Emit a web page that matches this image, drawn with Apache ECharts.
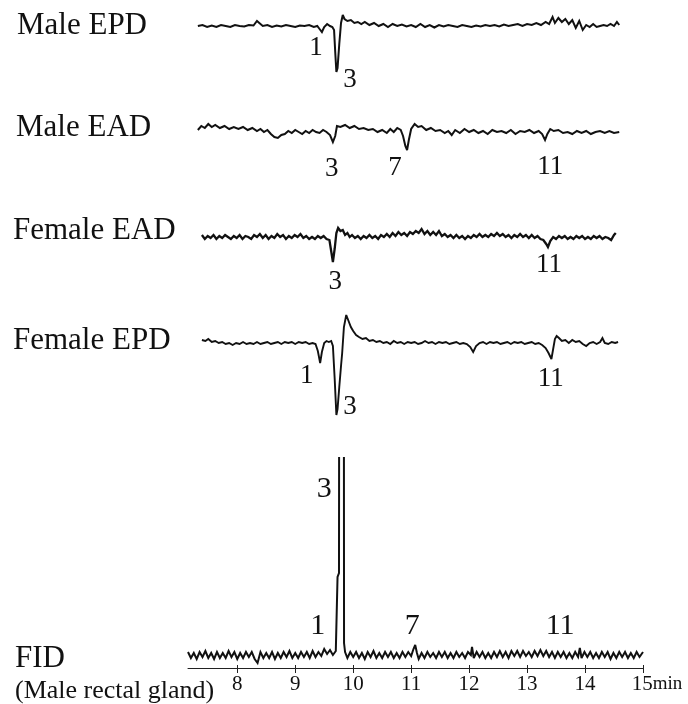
<!DOCTYPE html>
<html>
<head>
<meta charset="utf-8">
<script src="https://cdn.jsdelivr.net/npm/echarts@6/dist/echarts.min.js"></script>
<style>html,body{margin:0;padding:0;background:#fff}#c{width:688px;height:704px}</style>
</head>
<body>
<div id="c"></div>
<script>
// ---- DATA: retention time (min) / relative response ----
const traceNames = ['Male EPD', 'Male EAD', 'Female EAD', 'Female EPD', 'FID'];
const fidSubtitle = '(Male rectal gland)';
const tickValues = [8, 9, 10, 11, 12, 13, 14, 15];
const timeUnit = 'min';

const maleEpd = [[7.32,0.0],[7.40,0.1],[7.48,-0.1],[7.56,0.05],[7.64,-0.1],[7.72,0.1],[7.80,0.0],[7.88,-0.1],[7.96,0.1],[8.04,0.0],[8.12,-0.05],[8.20,0.1],[8.28,0.05],[8.34,0.5],[8.38,0.3],[8.44,0.0],[8.52,0.1],[8.60,-0.1],[8.68,0.05],[8.76,-0.05],[8.84,0.1],[8.92,0.0],[9.00,-0.1],[9.08,0.05],[9.16,0.0],[9.24,0.1],[9.32,-0.1],[9.38,0.0],[9.42,-0.3],[9.46,-0.6],[9.50,-0.1],[9.55,0.2],[9.60,0.0],[9.64,-0.1],[9.67,-0.4],[9.69,-2.6],[9.71,-4.6],[9.73,-4.2],[9.76,-1.8],[9.79,0.3],[9.82,1.1],[9.85,0.7],[9.90,0.5],[9.96,0.6],[10.02,0.3],[10.08,0.4],[10.14,0.2],[10.20,0.4],[10.28,0.1],[10.36,0.3],[10.44,0.0],[10.52,0.2],[10.60,-0.1],[10.68,0.2],[10.76,0.0],[10.84,0.15],[10.92,-0.05],[11.00,0.1],[11.08,-0.1],[11.16,0.2],[11.24,-0.1],[11.32,0.1],[11.40,-0.15],[11.48,0.1],[11.56,-0.05],[11.64,0.1],[11.72,0.0],[11.80,-0.1],[11.88,0.1],[11.96,0.0],[12.04,-0.1],[12.12,0.05],[12.20,-0.05],[12.28,0.1],[12.36,0.0],[12.44,0.1],[12.52,-0.05],[12.60,0.15],[12.68,0.0],[12.76,0.1],[12.84,0.2],[12.92,0.0],[13.00,0.2],[13.08,0.1],[13.16,0.3],[13.24,0.1],[13.32,0.4],[13.38,0.2],[13.44,0.9],[13.48,0.3],[13.54,0.8],[13.60,0.4],[13.66,0.7],[13.72,0.2],[13.78,0.6],[13.84,-0.2],[13.90,0.5],[13.96,-0.4],[14.02,0.1],[14.08,-0.1],[14.14,0.2],[14.20,-0.1],[14.26,0.0],[14.32,0.1],[14.38,0.0],[14.44,0.2],[14.50,0.0],[14.55,0.4],[14.59,0.1]];

const maleEad = [[7.32,0.2],[7.38,0.6],[7.44,0.4],[7.50,0.8],[7.56,0.5],[7.62,0.7],[7.70,0.4],[7.78,0.6],[7.86,0.3],[7.94,0.5],[8.02,0.3],[8.10,0.5],[8.18,0.2],[8.26,0.4],[8.34,0.1],[8.40,0.3],[8.46,0.0],[8.52,0.2],[8.58,-0.2],[8.64,-0.5],[8.70,-0.6],[8.76,-0.3],[8.82,-0.2],[8.88,0.1],[8.94,-0.1],[9.00,0.2],[9.06,0.0],[9.12,-0.2],[9.18,0.1],[9.24,-0.1],[9.30,0.2],[9.36,0.0],[9.42,-0.1],[9.48,0.2],[9.54,0.0],[9.60,-0.3],[9.65,-1.0],[9.69,-0.4],[9.72,0.6],[9.78,0.5],[9.86,0.7],[9.94,0.4],[10.02,0.6],[10.10,0.3],[10.18,0.4],[10.26,0.2],[10.34,0.3],[10.42,0.0],[10.50,0.2],[10.58,-0.1],[10.64,0.3],[10.70,0.0],[10.76,0.4],[10.82,0.2],[10.86,-0.4],[10.90,-1.4],[10.93,-1.8],[10.96,-0.8],[11.00,0.3],[11.06,0.8],[11.12,0.5],[11.18,0.6],[11.26,0.2],[11.34,0.4],[11.42,0.1],[11.50,0.2],[11.58,-0.1],[11.64,0.1],[11.70,-0.3],[11.76,0.2],[11.84,-0.1],[11.92,0.3],[12.00,0.0],[12.08,0.2],[12.16,-0.1],[12.24,0.1],[12.32,-0.2],[12.40,0.2],[12.48,0.0],[12.56,0.1],[12.64,-0.1],[12.72,0.2],[12.80,-0.2],[12.88,0.1],[12.96,0.0],[13.04,0.2],[13.12,-0.1],[13.20,0.1],[13.26,-0.2],[13.31,-0.8],[13.35,-0.2],[13.40,0.3],[13.46,0.1],[13.54,0.2],[13.62,-0.1],[13.70,0.0],[13.78,-0.2],[13.86,0.1],[13.94,-0.1],[14.02,0.1],[14.10,-0.2],[14.18,0.0],[14.26,0.1],[14.34,-0.1],[14.42,0.1],[14.50,-0.1],[14.59,0.0]];

const femaleEad = [[7.39,0.2],[7.44,-0.2],[7.49,0.1],[7.54,-0.1],[7.59,0.2],[7.64,-0.2],[7.69,0.1],[7.74,-0.1],[7.79,0.2],[7.84,0.0],[7.89,-0.2],[7.94,0.1],[7.99,-0.1],[8.04,0.2],[8.09,-0.2],[8.14,0.1],[8.19,0.0],[8.24,-0.2],[8.29,0.2],[8.34,0.0],[8.39,0.3],[8.44,-0.1],[8.49,0.2],[8.54,-0.2],[8.59,0.1],[8.64,-0.1],[8.69,0.3],[8.74,0.0],[8.79,0.2],[8.84,-0.2],[8.89,0.1],[8.94,-0.1],[8.99,0.2],[9.04,0.0],[9.09,0.3],[9.14,-0.1],[9.19,0.1],[9.24,-0.2],[9.29,0.0],[9.34,-0.2],[9.39,0.1],[9.44,-0.1],[9.49,0.1],[9.54,-0.2],[9.59,-0.3],[9.62,-1.4],[9.65,-2.5],[9.68,-1.2],[9.71,0.4],[9.74,0.9],[9.78,0.6],[9.82,0.7],[9.86,0.2],[9.90,0.4],[9.94,0.0],[9.98,0.2],[10.03,-0.1],[10.08,0.1],[10.13,-0.2],[10.18,0.1],[10.23,-0.1],[10.28,0.2],[10.33,-0.1],[10.38,0.1],[10.43,-0.2],[10.48,0.2],[10.53,0.0],[10.58,0.3],[10.63,0.0],[10.68,0.4],[10.73,0.1],[10.78,0.5],[10.83,0.2],[10.88,0.4],[10.93,0.1],[10.98,0.5],[11.03,0.3],[11.08,0.6],[11.13,0.4],[11.18,0.8],[11.23,0.3],[11.28,0.6],[11.33,0.2],[11.38,0.5],[11.43,0.2],[11.48,0.6],[11.53,0.1],[11.58,0.3],[11.63,0.0],[11.68,0.2],[11.73,-0.1],[11.78,0.2],[11.83,-0.1],[11.88,0.1],[11.93,-0.2],[11.98,0.1],[12.03,-0.1],[12.08,0.2],[12.13,0.0],[12.18,0.3],[12.23,0.0],[12.28,0.2],[12.33,0.0],[12.38,0.3],[12.43,0.1],[12.48,0.4],[12.53,0.1],[12.58,0.3],[12.63,0.0],[12.68,0.2],[12.73,-0.1],[12.78,0.2],[12.83,0.0],[12.88,0.3],[12.93,0.0],[12.98,0.2],[13.03,-0.1],[13.08,0.2],[13.13,-0.1],[13.18,0.1],[13.23,-0.2],[13.28,-0.3],[13.33,-0.7],[13.36,-1.0],[13.40,-0.4],[13.45,0.0],[13.50,-0.2],[13.55,0.1],[13.60,-0.1],[13.65,0.1],[13.70,-0.2],[13.75,0.0],[13.80,-0.2],[13.85,0.1],[13.90,-0.1],[13.95,0.1],[14.00,-0.2],[14.05,0.0],[14.10,-0.2],[14.15,0.1],[14.20,-0.1],[14.25,0.1],[14.30,-0.2],[14.35,0.0],[14.40,-0.1],[14.45,-0.3],[14.50,0.2],[14.53,0.4]];

const femaleEpd = [[7.39,0.3],[7.45,0.2],[7.50,0.4],[7.56,0.1],[7.62,0.2],[7.68,0.0],[7.74,0.1],[7.80,-0.1],[7.86,0.0],[7.92,-0.2],[7.98,0.0],[8.04,-0.1],[8.10,0.1],[8.16,-0.1],[8.22,0.0],[8.28,-0.1],[8.34,0.1],[8.40,-0.1],[8.46,0.0],[8.52,0.1],[8.58,-0.1],[8.64,0.0],[8.70,0.1],[8.76,-0.1],[8.82,0.1],[8.88,0.0],[8.94,0.1],[9.00,-0.1],[9.06,0.1],[9.12,0.0],[9.18,0.1],[9.24,-0.1],[9.30,0.0],[9.35,-0.1],[9.39,-0.8],[9.43,-2.0],[9.46,-0.9],[9.50,0.0],[9.54,0.2],[9.58,0.1],[9.62,0.2],[9.65,-0.3],[9.68,-3.5],[9.71,-7.2],[9.73,-6.6],[9.76,-4.4],[9.79,-2.3],[9.81,-1.0],[9.84,1.6],[9.88,2.8],[9.92,2.2],[9.96,1.6],[10.00,1.2],[10.05,0.8],[10.10,0.6],[10.16,0.4],[10.22,0.5],[10.28,0.2],[10.34,0.3],[10.40,0.1],[10.46,0.2],[10.52,0.0],[10.58,0.1],[10.64,-0.1],[10.70,0.2],[10.76,0.0],[10.82,0.1],[10.88,-0.1],[10.94,0.1],[11.00,0.0],[11.06,0.1],[11.12,-0.1],[11.18,0.0],[11.24,0.2],[11.30,0.0],[11.36,0.1],[11.42,-0.1],[11.48,0.1],[11.54,0.0],[11.60,0.1],[11.66,-0.1],[11.72,0.0],[11.78,0.1],[11.84,-0.1],[11.90,0.0],[11.96,-0.1],[12.02,-0.4],[12.07,-0.9],[12.12,-0.3],[12.18,0.0],[12.24,0.1],[12.30,-0.1],[12.36,0.1],[12.42,0.0],[12.48,0.1],[12.54,-0.1],[12.60,0.0],[12.66,0.1],[12.72,-0.1],[12.78,0.1],[12.84,0.0],[12.90,0.1],[12.96,-0.1],[13.02,0.0],[13.08,0.1],[13.14,-0.1],[13.20,0.0],[13.26,-0.2],[13.32,-0.5],[13.37,-1.0],[13.42,-1.6],[13.45,-0.6],[13.48,0.4],[13.51,0.7],[13.55,0.5],[13.60,0.2],[13.66,0.3],[13.72,0.0],[13.78,0.3],[13.84,0.1],[13.90,0.2],[13.96,-0.1],[14.02,-0.3],[14.08,0.0],[14.14,0.1],[14.20,-0.1],[14.26,0.1],[14.30,0.5],[14.34,0.0],[14.40,-0.1],[14.46,0.1],[14.52,0.0],[14.57,0.1]];

const fid = [[7.15,0.3],[7.20,-0.3],[7.25,0.2],[7.30,-0.4],[7.35,0.3],[7.40,-0.2],[7.45,0.4],[7.50,-0.3],[7.55,0.2],[7.60,-0.4],[7.65,0.3],[7.70,-0.3],[7.75,0.2],[7.80,-0.3],[7.85,0.4],[7.90,-0.2],[7.95,0.3],[8.00,-0.4],[8.05,0.2],[8.10,-0.3],[8.15,0.3],[8.20,-0.2],[8.25,0.3],[8.30,-0.4],[8.35,-0.8],[8.40,0.3],[8.45,-0.3],[8.50,0.2],[8.55,-0.3],[8.60,0.3],[8.65,-0.4],[8.70,0.2],[8.75,-0.3],[8.80,0.3],[8.85,-0.2],[8.90,0.4],[8.95,-0.3],[9.00,0.2],[9.05,-0.3],[9.10,0.3],[9.15,-0.2],[9.20,0.3],[9.25,-0.3],[9.30,0.4],[9.35,-0.2],[9.40,0.3],[9.45,-0.1],[9.50,0.6],[9.55,0.1],[9.60,0.5],[9.65,0.0],[9.70,0.4],[9.72,0.3],[9.73,7.8],[9.755,8.2],[9.76,40],[9.80,200],[9.838,40],[9.842,1.2],[9.86,0.3],[9.90,-0.3],[9.95,0.3],[10.00,-0.2],[10.05,0.3],[10.10,-0.3],[10.15,0.2],[10.20,-0.4],[10.25,0.3],[10.30,-0.2],[10.35,0.4],[10.40,-0.3],[10.45,0.2],[10.50,-0.3],[10.55,0.3],[10.60,-0.2],[10.65,0.3],[10.70,-0.3],[10.75,0.2],[10.80,-0.3],[10.85,0.3],[10.90,-0.2],[10.95,0.3],[11.00,-0.1],[11.04,0.6],[11.07,1.0],[11.10,0.2],[11.13,-0.4],[11.18,0.2],[11.23,-0.3],[11.28,0.3],[11.33,-0.2],[11.38,0.2],[11.43,-0.3],[11.48,0.3],[11.53,-0.2],[11.58,0.3],[11.63,-0.3],[11.68,0.2],[11.73,-0.3],[11.78,0.3],[11.83,-0.2],[11.88,0.2],[11.93,-0.3],[11.98,0.3],[12.03,0.0],[12.05,0.8],[12.08,-0.3],[12.13,0.3],[12.18,-0.2],[12.23,0.3],[12.28,-0.3],[12.33,0.2],[12.38,-0.3],[12.43,0.3],[12.48,-0.2],[12.53,0.4],[12.58,-0.2],[12.63,0.3],[12.68,-0.3],[12.73,0.4],[12.78,-0.1],[12.83,0.4],[12.88,-0.2],[12.93,0.4],[12.98,-0.1],[13.03,0.3],[13.08,-0.2],[13.13,0.4],[13.18,-0.1],[13.23,0.5],[13.28,-0.1],[13.33,0.4],[13.38,-0.2],[13.43,0.3],[13.48,-0.3],[13.53,0.3],[13.58,-0.2],[13.63,0.3],[13.68,-0.3],[13.73,0.2],[13.78,-0.3],[13.83,0.3],[13.88,-0.2],[13.91,0.7],[13.94,-0.3],[13.99,0.3],[14.04,-0.2],[14.09,0.3],[14.14,-0.3],[14.19,0.2],[14.24,-0.3],[14.29,0.3],[14.34,-0.2],[14.39,0.3],[14.44,-0.4],[14.49,0.2],[14.54,-0.3],[14.59,0.3],[14.64,-0.2],[14.69,0.3],[14.74,-0.3],[14.79,0.2],[14.84,-0.3],[14.89,0.3],[14.94,-0.2],[15.00,0.3]];

// peak-number labels: [label, time, response]
const maleEpdPeaks = [['1', 9.36, -2.2], ['3', 9.945, -5.4]];
const maleEadPeaks = [['3', 9.63, -3.7], ['7', 10.72, -3.6], ['11', 13.40, -3.5]];
const femaleEadPeaks = [['3', 9.69, -4.5], ['11', 13.38, -2.8]];
const femaleEpdPeaks = [['1', 9.20, -3.3], ['3', 9.945, -6.4], ['11', 13.41, -3.6]];
const fidPeaks = [['3', 9.50, 16.6], ['1', 9.39, 2.9], ['7', 11.02, 2.9], ['11', 13.57, 2.9]];

// ---- CHART ----
const FONT = '"Liberation Serif", "Times New Roman", serif';
const traces = [maleEpd, maleEad, femaleEad, femaleEpd, fid];
const peaks = [maleEpdPeaks, maleEadPeaks, femaleEadPeaks, femaleEpdPeaks, fidPeaks];
const panels = [
  {top: 1, height: 95, min: -7, max: 2.5, fs: 27, lw: 2.0},
  {top: 112, height: 65, min: -4.5, max: 2, fs: 27, lw: 2.0},
  {top: 217, height: 75, min: -5.5, max: 2, fs: 27, lw: 2.3},
  {top: 308, height: 120, min: -8.5, max: 3.5, fs: 27, lw: 1.9},
  {top: 458, height: 210, min: -1.3, max: 19.7, fs: 30, lw: 2.0}
];
const X_MIN = 7.15, X_MAX = 15;

const grid = panels.map(p => ({left: 188, right: 45, top: p.top, height: p.height}));
const xAxis = panels.map((p, i) => {
  const last = i === panels.length - 1;
  return {
    type: 'value', gridIndex: i, min: X_MIN, max: X_MAX, show: last,
    splitLine: {show: false},
    axisLine: {show: last, onZero: false, lineStyle: {color: '#222', width: 1}},
    axisTick: {show: last, inside: false, length: 5, customValues: tickValues, lineStyle: {color: '#222'}},
    axisLabel: {
      show: last, customValues: tickValues, margin: 6, color: '#111',
      fontFamily: FONT, fontSize: 21,
      formatter: v => v === 15 ? '{sp|}15{u|' + timeUnit + '}' : String(v),
      rich: {sp: {width: 28}, u: {fontFamily: FONT, fontSize: 19, color: '#111'}}
    }
  };
});
// inner half of the tick marks (ticks cross the axis line)
xAxis.push({
  type: 'value', gridIndex: 4, min: X_MIN, max: X_MAX, position: 'bottom',
  splitLine: {show: false}, axisLine: {show: false, onZero: false},
  axisTick: {show: true, inside: true, length: 3, customValues: tickValues, lineStyle: {color: '#222'}},
  axisLabel: {show: false}
});
const yAxis = panels.map((p, i) => ({
  type: 'value', gridIndex: i, min: p.min, max: p.max, show: false, splitLine: {show: false}
}));

const series = traces.map((d, i) => ({
  type: 'line', xAxisIndex: i, yAxisIndex: i, data: d,
  symbol: 'none', showSymbol: false, clip: true, animation: false, silent: true,
  lineStyle: {color: '#111', width: panels[i].lw, join: 'miter', miterLimit: 3},
  markPoint: {
    symbol: 'circle', symbolSize: 0, animation: false, silent: true,
    data: peaks[i].map(p => ({name: p[0], coord: [p[1], p[2]], value: p[0]})),
    label: {show: true, position: 'inside', formatter: '{b}', color: '#111', fontFamily: FONT, fontSize: panels[i].fs}
  }
}));

const titleTexts = [
  {text: traceNames[0], x: 17, y: 26, fs: 31},
  {text: traceNames[1], x: 16, y: 128, fs: 31},
  {text: traceNames[2], x: 13, y: 231, fs: 31},
  {text: traceNames[3], x: 13, y: 341, fs: 31},
  {text: traceNames[4], x: 15, y: 659, fs: 31},
  {text: fidSubtitle, x: 15, y: 691, fs: 26}
];
const graphic = titleTexts.map(t => ({
  type: 'text', left: t.x, top: t.y - t.fs / 2, silent: true,
  style: {text: t.text, fill: '#111', font: t.fs + 'px ' + FONT}
}));

const chart = echarts.init(document.getElementById('c'), null, {renderer: 'canvas'});
chart.setOption({animation: false, backgroundColor: '#fff', grid, xAxis, yAxis, series, graphic});
</script>
</body>
</html>
